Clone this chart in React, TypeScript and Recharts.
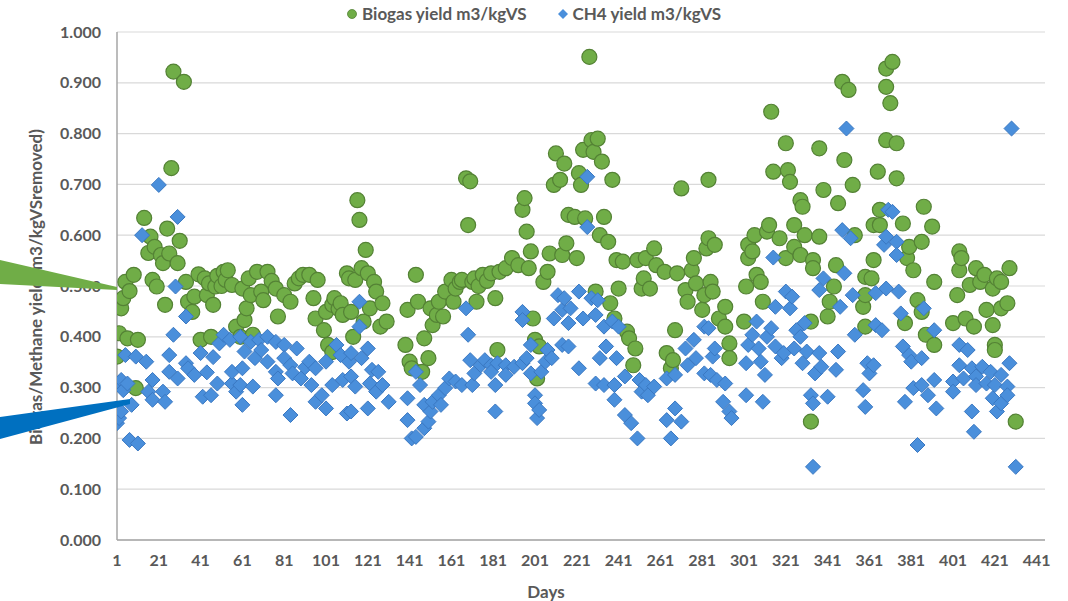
import React from 'react';
import { ScatterChart, Scatter, XAxis, YAxis, CartesianGrid } from 'recharts';

// [day, m3/kgVS]
const biogasPoints: [number, number][] = [
  [1, 0.361], [2, 0.407], [3, 0.456], [4, 0.476], [5, 0.508], [6, 0.397], [7, 0.49], [9, 0.522], [10, 0.299],
  [11, 0.394], [14, 0.634], [16, 0.565], [17, 0.597], [18, 0.512], [19, 0.577], [20, 0.499], [22, 0.561],
  [23, 0.545], [24, 0.463], [25, 0.613], [26, 0.564], [27, 0.732], [28, 0.922], [30, 0.545], [31, 0.589],
  [33, 0.902], [34, 0.508], [35, 0.469], [37, 0.449], [38, 0.479], [40, 0.523], [41, 0.394], [43, 0.515],
  [44, 0.482], [45, 0.505], [46, 0.4], [47, 0.463], [48, 0.499], [49, 0.52], [51, 0.5], [52, 0.528], [53, 0.512],
  [54, 0.531], [56, 0.502], [58, 0.42], [60, 0.4], [61, 0.495], [62, 0.433], [63, 0.456], [64, 0.515],
  [65, 0.482], [66, 0.404], [68, 0.528], [70, 0.489], [71, 0.472], [73, 0.528], [75, 0.51], [77, 0.495], [78, 0.44],
  [81, 0.482], [84, 0.469], [86, 0.505], [88, 0.515], [90, 0.522], [93, 0.522], [95, 0.476], [96, 0.436], [97, 0.512],
  [100, 0.413], [101, 0.449], [102, 0.384], [104, 0.463], [104, 0.37], [105, 0.476], [107, 0.455], [108, 0.466],
  [109, 0.443], [111, 0.525],
  [112, 0.515], [113, 0.449], [114, 0.4], [115, 0.512], [116, 0.669], [117, 0.63], [118, 0.535], [119, 0.43],
  [120, 0.571], [121, 0.525], [122, 0.456], [124, 0.508], [125, 0.489], [127, 0.42], [128, 0.466], [130, 0.43],
  [139, 0.384], [140, 0.453], [141, 0.351], [142, 0.338], [144, 0.522], [145, 0.469], [147, 0.331],
  [148, 0.397], [150, 0.358], [151, 0.456], [152, 0.423], [154, 0.443], [155, 0.469], [157, 0.44],
  [158, 0.489], [161, 0.512], [162, 0.469], [163, 0.495], [165, 0.508], [166, 0.512],
  [168, 0.712], [169, 0.62], [170, 0.706], [171, 0.508], [172, 0.515], [173, 0.469], [174, 0.5], [176, 0.522],
  [178, 0.51], [180, 0.525], [182, 0.476], [183, 0.374], [184, 0.528], [187, 0.535], [190, 0.555], [193, 0.541],
  [195, 0.65], [196, 0.673], [197, 0.607], [198, 0.535], [199, 0.568], [200, 0.436], [201, 0.394],
  [202, 0.318], [203, 0.381], [205, 0.508], [207, 0.528], [208, 0.564], [210, 0.699], [211, 0.761],
  [213, 0.709], [214, 0.561], [215, 0.741], [216, 0.584], [217, 0.64], [220, 0.636], [221, 0.555],
  [222, 0.722], [223, 0.699], [224, 0.768], [225, 0.633], [227, 0.951],
  [228, 0.787], [229, 0.764], [230, 0.489], [231, 0.79], [232, 0.6], [233, 0.745], [234, 0.636],
  [236, 0.587], [237, 0.466], [238, 0.709], [239, 0.436], [240, 0.551], [241, 0.495], [243, 0.548],
  [245, 0.41], [246, 0.397], [248, 0.344], [249, 0.377], [250, 0.551], [252, 0.495], [253, 0.515],
  [254, 0.555], [256, 0.495], [258, 0.574], [259, 0.541], [263, 0.528], [264, 0.368], [266, 0.338],
  [267, 0.354], [268, 0.413], [269, 0.525], [271, 0.692], [273, 0.492], [274, 0.469], [276, 0.531],
  [277, 0.555], [278, 0.505], [281, 0.453], [282, 0.482], [283, 0.574],
  [284, 0.709], [284, 0.594], [285, 0.508], [286, 0.489], [287, 0.581], [289, 0.436], [292, 0.459],
  [292, 0.42], [294, 0.387], [294, 0.358], [301, 0.43], [302, 0.499], [303, 0.581], [303, 0.555],
  [305, 0.568], [306, 0.6], [307, 0.522], [309, 0.508], [310, 0.469], [312, 0.607], [313, 0.62],
  [314, 0.843], [315, 0.725], [318, 0.594], [321, 0.555], [321, 0.781], [322, 0.728], [323, 0.705],
  [325, 0.62], [325, 0.577], [328, 0.561], [328, 0.669], [329, 0.656], [330, 0.6], [333, 0.43],
  [333, 0.233], [334, 0.551], [334, 0.535], [337, 0.597], [337, 0.771], [339, 0.689],
  [341, 0.44], [342, 0.469], [344, 0.499], [345, 0.541], [346, 0.663], [348, 0.902], [349, 0.748],
  [351, 0.886], [353, 0.699], [354, 0.6], [358, 0.459], [359, 0.482], [359, 0.518], [359, 0.42],
  [362, 0.515], [363, 0.62], [363, 0.551], [365, 0.725], [366, 0.62], [366, 0.65], [369, 0.892],
  [369, 0.928], [369, 0.787], [371, 0.86], [372, 0.941], [374, 0.781], [374, 0.712], [377, 0.623],
  [378, 0.427], [379, 0.555], [380, 0.577], [382, 0.531], [384, 0.472], [386, 0.587], [386, 0.449],
  [387, 0.656], [388, 0.404], [391, 0.617], [392, 0.508], [392, 0.384],
  [401, 0.427], [403, 0.482], [404, 0.531], [404, 0.568], [405, 0.555], [407, 0.436], [409, 0.502],
  [411, 0.42], [412, 0.535], [414, 0.508], [416, 0.522], [417, 0.453], [420, 0.495], [420, 0.423],
  [421, 0.384], [421, 0.374], [422, 0.515], [424, 0.508], [424, 0.456], [427, 0.466], [428, 0.535],
  [431, 0.233],
];

const ch4Points: [number, number][] = [
  [1, 0.23], [2, 0.31], [2, 0.24], [3, 0.253], [3, 0.315], [4, 0.295], [5, 0.364], [6, 0.308], [7, 0.197],
  [8, 0.266], [10, 0.361], [11, 0.19], [13, 0.6], [15, 0.351], [16, 0.292], [18, 0.276], [18, 0.315],
  [21, 0.699], [23, 0.292], [24, 0.272], [26, 0.364], [26, 0.331], [28, 0.404], [29, 0.499], [30, 0.636],
  [30, 0.318], [34, 0.44], [34, 0.348], [35, 0.338], [38, 0.325], [41, 0.368], [42, 0.282], [44, 0.33],
  [46, 0.285], [47, 0.36], [49, 0.308], [50, 0.387], [52, 0.404],
  [55, 0.394], [56, 0.308], [56, 0.331], [58, 0.292], [60, 0.4], [61, 0.338], [60, 0.305], [61, 0.266],
  [62, 0.371], [65, 0.39], [66, 0.302], [67, 0.358], [69, 0.394], [70, 0.374], [73, 0.4], [73, 0.351],
  [77, 0.39], [77, 0.331], [77, 0.285], [78, 0.318], [81, 0.384], [81, 0.358], [84, 0.344], [84, 0.246],
  [85, 0.328], [87, 0.377], [89, 0.318], [91, 0.34], [93, 0.351], [94, 0.305], [96, 0.338], [96, 0.272], [99, 0.285],
  [101, 0.351], [101, 0.259], [104, 0.305], [106, 0.384], [108, 0.364], [109, 0.315], [111, 0.249],
  [112, 0.351], [113, 0.368], [113, 0.322], [113, 0.253], [115, 0.302], [117, 0.469], [117, 0.42],
  [118, 0.358], [121, 0.377], [121, 0.259], [122, 0.308], [123, 0.335], [125, 0.292], [126, 0.331],
  [128, 0.305], [131, 0.272], [140, 0.279], [140, 0.236], [142, 0.2], [144, 0.331], [144, 0.203],
  [146, 0.305], [148, 0.22], [148, 0.266], [150, 0.233], [151, 0.253], [152, 0.272], [155, 0.285],
  [156, 0.266], [158, 0.299], [160, 0.318], [163, 0.312], [166, 0.305], [168, 0.456], [169, 0.404],
  [170, 0.354], [171, 0.305], [172, 0.328], [175, 0.344], [177, 0.354], [180, 0.344], [180, 0.331],
  [182, 0.305], [182, 0.253], [183, 0.348], [187, 0.344], [187, 0.325], [191, 0.341], [195, 0.348],
  [195, 0.449], [195, 0.433], [197, 0.358], [199, 0.384], [199, 0.328], [201, 0.285], [201, 0.269],
  [202, 0.24], [203, 0.256], [204, 0.331], [206, 0.351], [207, 0.374], [209, 0.358], [210, 0.436],
  [212, 0.482], [214, 0.453], [214, 0.384], [215, 0.476], [217, 0.427], [217, 0.381], [218, 0.456],
  [222, 0.489], [222, 0.338], [224, 0.436], [226, 0.715], [226, 0.616],
  [228, 0.476], [230, 0.443], [230, 0.308], [231, 0.472], [232, 0.358], [234, 0.42], [234, 0.305],
  [235, 0.381], [238, 0.43], [239, 0.276], [239, 0.305], [240, 0.358], [241, 0.42], [244, 0.322],
  [244, 0.246], [247, 0.23], [250, 0.2], [251, 0.315], [252, 0.292], [254, 0.305], [255, 0.285],
  [258, 0.302], [264, 0.318], [264, 0.236], [266, 0.2], [268, 0.325], [268, 0.259], [271, 0.233],
  [273, 0.377], [274, 0.344], [277, 0.394], [278, 0.358], [282, 0.328], [282, 0.42],
  [284, 0.417], [285, 0.325], [286, 0.361], [287, 0.377], [288, 0.315], [291, 0.272], [292, 0.308],
  [294, 0.253], [295, 0.24], [302, 0.348], [302, 0.285], [303, 0.384], [305, 0.404], [307, 0.43],
  [308, 0.377], [309, 0.351], [310, 0.272], [311, 0.325], [312, 0.4], [314, 0.417], [315, 0.556],
  [316, 0.459], [316, 0.381], [319, 0.358], [320, 0.368], [321, 0.489], [323, 0.456], [324, 0.479],
  [325, 0.377], [326, 0.413], [328, 0.4], [329, 0.348], [330, 0.427], [331, 0.371], [333, 0.285],
  [334, 0.269], [334, 0.144], [335, 0.328], [337, 0.368], [337, 0.492], [338, 0.341], [339, 0.515],
  [341, 0.282], [345, 0.335], [346, 0.371], [347, 0.459], [348, 0.61], [349, 0.525], [350, 0.81],
  [352, 0.594], [353, 0.482], [354, 0.404], [358, 0.295], [359, 0.262], [360, 0.348], [361, 0.328],
  [363, 0.344], [364, 0.486], [364, 0.423], [367, 0.413], [368, 0.581], [369, 0.597], [369, 0.495],
  [370, 0.65], [372, 0.646], [374, 0.587], [374, 0.561], [375, 0.489], [376, 0.446], [377, 0.381],
  [378, 0.272], [380, 0.364], [381, 0.351], [382, 0.299], [384, 0.187], [386, 0.358], [386, 0.305],
  [387, 0.456], [389, 0.285], [392, 0.413], [392, 0.315], [393, 0.259],
  [401, 0.312], [401, 0.292], [404, 0.384], [404, 0.344], [406, 0.318], [408, 0.374], [410, 0.338],
  [410, 0.253], [411, 0.213], [412, 0.322], [412, 0.305], [415, 0.341], [417, 0.308], [419, 0.331],
  [420, 0.279], [421, 0.305], [422, 0.253], [424, 0.325], [424, 0.269], [427, 0.302], [427, 0.285],
  [428, 0.348], [429, 0.81], [431, 0.144],
];

const dayTicks = [1, 21, 41, 61, 81, 101, 121, 141, 161, 181, 201, 221, 241, 261, 281, 301, 321, 341, 361, 381, 401, 421, 441];
const yieldTicks = [0, 0.1, 0.2, 0.3, 0.4, 0.5, 0.6, 0.7, 0.8, 0.9, 1.0];

const seriesNames = ['Biogas yield m3/kgVS', 'CH4 yield m3/kgVS'];

const FONT = 'Lato, "Open Sans", sans-serif';
const TEXT = '#595959';
const GREEN = '#70AD47';
const GREEN_EDGE = '#548235';
const BLUE = '#4A8FDB';
const BLUE_EDGE = '#3A78C2';

const toRows = (pts: [number, number][]) => pts.map(([day, value]) => ({ day, value }));

const Dot = (props: any) => {
  const { cx, cy } = props;
  if (cx == null || cy == null) return null;
  return <circle cx={cx} cy={cy} r={7.5} fill={GREEN} stroke={GREEN_EDGE} strokeWidth={1.2} />;
};

const Diamond = (props: any) => {
  const { cx, cy } = props;
  if (cx == null || cy == null) return null;
  const s = 7.5;
  return (
    <path
      d={`M${cx},${cy - s}L${cx + s},${cy}L${cx},${cy + s}L${cx - s},${cy}Z`}
      fill={BLUE}
      stroke={BLUE_EDGE}
      strokeWidth={1}
    />
  );
};

// legend sits above the plot, outside the chart's layout so it doesn't push the plot down
const LegendRow = () => (
  <div
    style={{
      position: 'absolute', left: 0, top: 3, width: 1068,
      display: 'flex', justifyContent: 'center', gap: 32,
      fontFamily: FONT, fontWeight: 700, fontSize: 17, color: TEXT, lineHeight: '22px',
    }}
  >
    <span style={{ display: 'flex', alignItems: 'center', gap: 5 }}>
      <svg width={10} height={10}><circle cx={5} cy={5} r={4.5} fill={GREEN} stroke={GREEN_EDGE} strokeWidth={0.8} /></svg>
      {seriesNames[0]}
    </span>
    <span style={{ display: 'flex', alignItems: 'center', gap: 4 }}>
      <svg width={10} height={10}><path d="M5,0L10,5L5,10L0,5Z" fill={BLUE} /></svg>
      {seriesNames[1]}
    </span>
  </div>
);

const YTitle = () => (
  <text
    transform="translate(35,287) rotate(-90)"
    textAnchor="middle"
    dominantBaseline="central"
    fontFamily={FONT}
    fontWeight={700}
    fontSize={17}
    fill={TEXT}
  >
    Biogas/Methane yield (m3/kgVSremoved)
  </text>
);

const XTitle = () => (
  <text x={546} y={591} textAnchor="middle" dominantBaseline="central" fontFamily={FONT} fontWeight={700} fontSize={17} fill={TEXT}>
    Days
  </text>
);

export default function App() {
  const tickStyle = { fontFamily: FONT, fontWeight: 700, fontSize: 16, fill: TEXT };
  return (
    <div style={{ position: 'absolute', left: 0, top: 0, width: 1068, height: 601, background: '#fff' }}>
      <ScatterChart width={1068} height={601} margin={{ top: 32, right: 23, bottom: 0, left: 0 }}>
        <CartesianGrid vertical={false} stroke="#D9D9D9" strokeWidth={1.2} />
        <XAxis
          type="number"
          dataKey="day"
          domain={[1, 445]}
          ticks={dayTicks}
          allowDataOverflow
          height={61}
          tickLine={false}
          tickSize={8}
          tickMargin={7}
          axisLine={{ stroke: '#A6A6A6', strokeWidth: 1.5 }}
          tick={tickStyle}
          interval={0}
          label={{ content: () => <XTitle /> }}
        />
        <YAxis
          type="number"
          dataKey="value"
          domain={[0, 1]}
          ticks={yieldTicks}
          width={117}
          tickLine={false}
          tickSize={8}
          tickMargin={8}
          axisLine={{ stroke: '#A6A6A6', strokeWidth: 1.5 }}
          tick={tickStyle}
          tickFormatter={(v: number) => v.toFixed(3)}
          label={{ content: () => <YTitle /> }}
        />
        <Scatter name={seriesNames[0]} data={toRows(biogasPoints)} shape={Dot} isAnimationActive={false} />
        <Scatter name={seriesNames[1]} data={toRows(ch4Points)} shape={Diamond} isAnimationActive={false} />
      </ScatterChart>
      <LegendRow />
      {/* callout arrows drawn over the axis area */}
      <svg width={1068} height={601} style={{ position: 'absolute', left: 0, top: 0, pointerEvents: 'none' }}>
        <polygon points="0,260 117,287 117,290 0,284" fill={GREEN} />
        <polygon points="0,417 130,399 130,404 0,439" fill="#0070C0" />
      </svg>
    </div>
  );
}
